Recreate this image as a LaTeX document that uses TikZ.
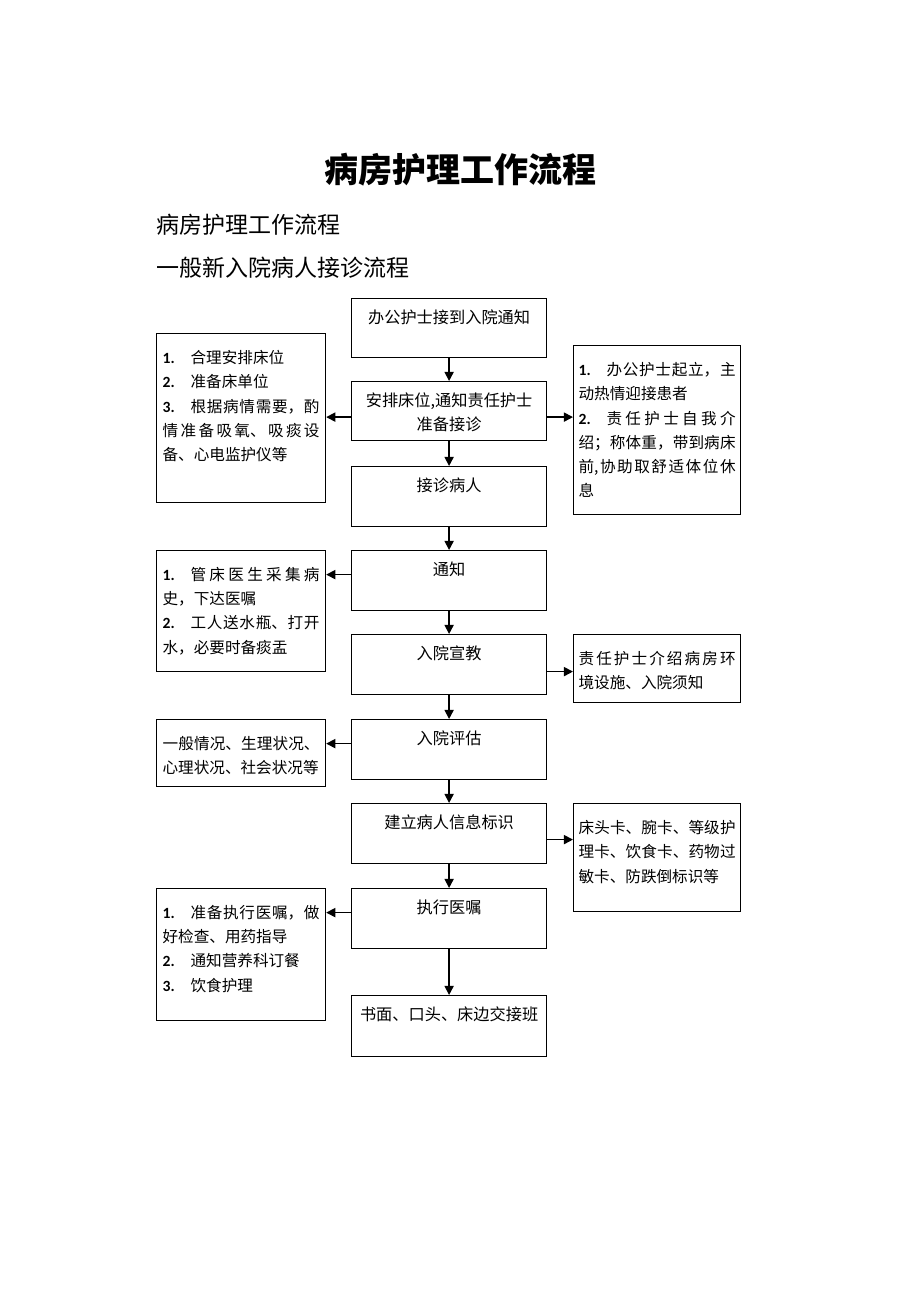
\documentclass[tikz,border=0pt]{standalone}
\usepackage{fontspec}
\setmainfont{Noto Sans CJK SC}
\newfontfamily\lat{Carlito}
\usetikzlibrary{arrows.meta}
\XeTeXlinebreaklocale "zh"
\XeTeXlinebreakskip=0pt plus 1pt
\tolerance=10000 \hbadness=10000
\newcommand\ctxt[2]{\parbox[t][#1][t]{97.5pt}{\centering\vspace*{5.6pt}#2}}
\newcommand\stxt[2]{\parbox[t][#1][t]{78.5pt}{\vspace*{8.3pt}#2}}
\newcommand\itm[1]{\makebox[14pt][l]{\lat\bfseries #1}}
\tikzset{
  cbox/.style={draw,line width=.6pt,inner sep=0pt,anchor=north west,
    font=\fontsize{8.1pt}{11.8pt}\selectfont},
  lbox/.style={cbox,inner xsep=3pt,font=\fontsize{7.8pt}{12.15pt}\selectfont},
  rbox/.style={lbox,inner xsep=2.5pt},
  flow/.style={-{Triangle[length=4.6pt,width=4.6pt]},line width=.8pt}
}
\begin{document}
\begin{tikzpicture}[x=0.5pt,y=-0.5pt]
\useasboundingbox (0,0) rectangle (920,1302);
% headings
\node[inner sep=0pt,font=\fontsize{17pt}{20pt}\selectfont\bfseries] (title) at (460,170) {病房护理工作流程};
\node[inner sep=0pt,anchor=west,font=\fontsize{11.5pt}{14pt}\selectfont] (sub1) at (156,225) {病房护理工作流程};
\node[inner sep=0pt,anchor=west,font=\fontsize{11.5pt}{14pt}\selectfont] (sub2) at (156,268) {一般新入院病人接诊流程};
% main column
\node[cbox] (c1) at (351,298) {\ctxt{29.5pt}{办公护士接到入院通知}};
\node[cbox] (c2) at (351,381) {\ctxt{29.5pt}{安排床位,通知责任护士\\准备接诊}};
\node[cbox] (c3) at (351,466) {\ctxt{30pt}{接诊病人}};
\node[cbox] (c4) at (351,550) {\ctxt{30pt}{通知}};
\node[cbox] (c5) at (351,634) {\ctxt{30pt}{入院宣教}};
\node[cbox] (c6) at (351,719) {\ctxt{30pt}{入院评估}};
\node[cbox] (c7) at (351,803) {\ctxt{30pt}{建立病人信息标识}};
\node[cbox] (c8) at (351,888) {\ctxt{30pt}{执行医嘱}};
\node[cbox] (c9) at (351,995) {\ctxt{30.5pt}{书面、口头、床边交接班}};
% left notes
\node[lbox] (l1) at (156,333) {\stxt{84.5pt}{\itm{1.}合理安排床位\par
  \itm{2.}准备床单位\par
  \itm{3.}根据病情需要，酌\linebreak 情准备吸氧、吸痰设\linebreak 备、心电监护仪等}};
\node[lbox] (l2) at (156,550) {\stxt{60.5pt}{\itm{1.}管床医生采集病\linebreak 史，下达医嘱\par
  \itm{2.}工人送水瓶、打开\linebreak 水，必要时备痰盂}};
\node[lbox] (l3) at (156,719) {\stxt{33.5pt}{一般情况、生理状况、\linebreak 心理状况、社会状况等}};
\node[lbox] (l4) at (156,888) {\stxt{66pt}{\itm{1.}准备执行医嘱，做\linebreak 好检查、用药指导\par
  \itm{2.}通知营养科订餐\par
  \itm{3.}饮食护理}};
% right notes
\node[rbox] (r1) at (573,345) {\stxt{84.5pt}{\itm{1.}办公护士起立，主\linebreak 动热情迎接患者\par
  \itm{2.}责任护士自我介\linebreak 绍；称体重，带到病床\linebreak 前,协助取舒适体位休\linebreak 息}};
\node[rbox] (r2) at (573,634) {\stxt{34pt}{责任护士介绍病房环\linebreak 境设施、入院须知}};
\node[rbox] (r3) at (573,803) {\stxt{54pt}{床头卡、腕卡、等级护\linebreak 理卡、饮食卡、药物过\linebreak 敏卡、防跌倒标识等}};
% arrows
\draw[flow] (c1) -- (c2);
\draw[flow] (c2) -- (c3);
\draw[flow] (c3) -- (c4);
\draw[flow] (c4) -- (c5);
\draw[flow] (c5) -- (c6);
\draw[flow] (c6) -- (c7);
\draw[flow] (c7) -- (c8);
\draw[flow] (c8) -- (c9);
\draw[flow] ([yshift=-3pt]c2.west) -- ([yshift=-3pt]c2.west -| l1.east);
\draw[flow] ([yshift=-3pt]c2.east) -- ([yshift=-3pt]c2.east -| r1.west);
\draw[flow] ([yshift=3pt]c4.west) -- ([yshift=3pt]c4.west -| l2.east);
\draw[flow] ([yshift=-3.5pt]c5.east) -- ([yshift=-3.5pt]c5.east -| r2.west);
\draw[flow] ([yshift=3pt]c6.west) -- ([yshift=3pt]c6.west -| l3.east);
\draw[flow] ([yshift=-3pt]c7.east) -- ([yshift=-3pt]c7.east -| r3.west);
\draw[flow] ([yshift=3pt]c8.west) -- ([yshift=3pt]c8.west -| l4.east);
\end{tikzpicture}
\end{document}
